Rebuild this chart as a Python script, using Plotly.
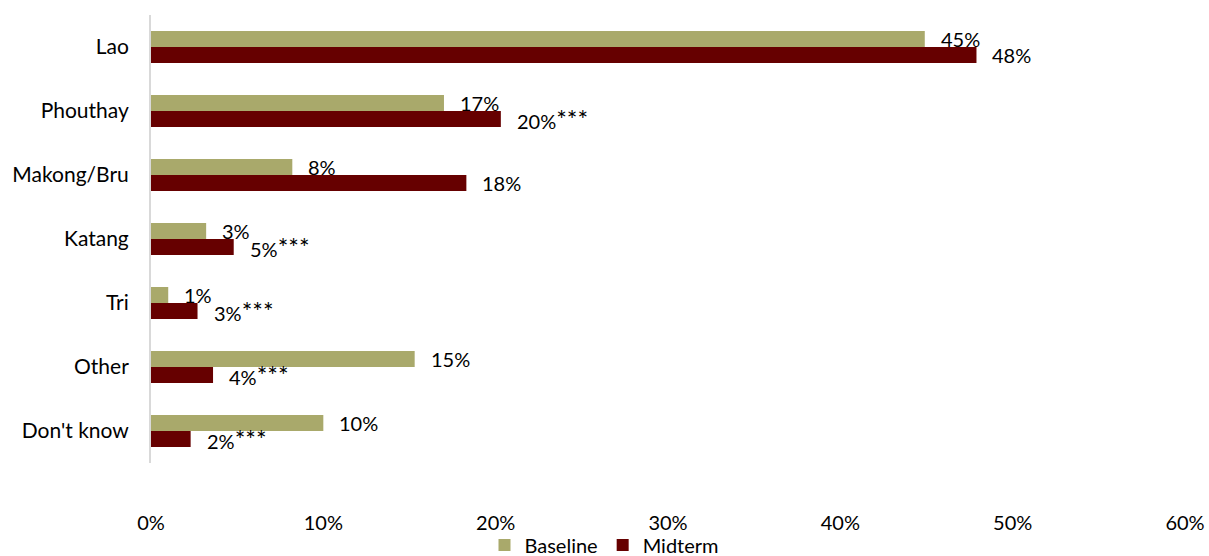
import plotly.graph_objects as go

# Ethnic group shares, baseline vs midterm survey (percent)
categories = ["Lao", "Phouthay", "Makong/Bru", "Katang", "Tri", "Other", "Don't know"]
baseline = [44.9, 17.0, 8.2, 3.2, 1.0, 15.3, 10.0]
midterm = [47.9, 20.3, 18.3, 4.8, 2.7, 3.6, 2.3]
midterm_sig = ["", "***", "", "***", "***", "***", "***"]
x_ticks = [0, 10, 20, 30, 40, 50, 60]

BASE_COLOR = "#A9A96B"
MID_COLOR = "#660000"
FONT = "Lato"

fig = go.Figure()
fig.add_trace(go.Bar(y=categories, x=baseline, name="Baseline", orientation="h",
                     marker=dict(color=BASE_COLOR, line=dict(width=0)),
                     offsetgroup="b"))
fig.add_trace(go.Bar(y=categories, x=midterm, name="Midterm", orientation="h",
                     marker=dict(color=MID_COLOR, line=dict(width=0)),
                     offsetgroup="m"))


def stars(s):
    return f"<span style='font-size:25px'>{s}</span>" if s else ""


# value labels to the right of each bar
for i, cat in enumerate(categories):
    fig.add_annotation(x=baseline[i], y=i, xref="x", yref="y",
                       text=f"{round(baseline[i])}%", showarrow=False,
                       xanchor="left", yanchor="middle", xshift=14, yshift=8,
                       font=dict(family=FONT, size=20, color="#000000"))
    fig.add_annotation(x=midterm[i], y=i, xref="x", yref="y",
                       text=f"{round(midterm[i])}%{stars(midterm_sig[i])}", showarrow=False,
                       xanchor="left", yanchor="middle", xshift=14, yshift=-8,
                       font=dict(family=FONT, size=20, color="#000000"))

fig.update_layout(
    width=1209, height=556,
    margin=dict(l=151, r=24, t=15, b=93, autoexpand=False),
    paper_bgcolor="white", plot_bgcolor="white",
    barmode="group", bargap=0.5, bargroupgap=0,
    font=dict(family=FONT, size=20, color="#000000"),
    showlegend=True,
    legend=dict(orientation="h", xref="container", x=0.5, xanchor="center",
                yref="container", y=0.02, yanchor="middle",
                bgcolor="rgba(0,0,0,0)",
                font=dict(family=FONT, size=20, color="#000000"),
                traceorder="normal", itemwidth=30, tracegroupgap=0),
)
fig.update_xaxes(range=[0, 60], tickvals=x_ticks,
                 ticktext=[f"{v}%" for v in x_ticks],
                 showgrid=False, zeroline=False, showline=False,
                 ticks="", ticklabelstandoff=46, automargin=False,
                 tickfont=dict(family=FONT, size=20, color="#000000"))
fig.update_yaxes(categoryorder="array", categoryarray=categories,
                 autorange="reversed", showgrid=False, zeroline=False,
                 showline=True, linecolor="#D9D9D9", linewidth=2,
                 ticks="", ticklabelstandoff=16, automargin=False,
                 tickfont=dict(family=FONT, size=21, color="#000000"))

fig.write_html("out.html")
